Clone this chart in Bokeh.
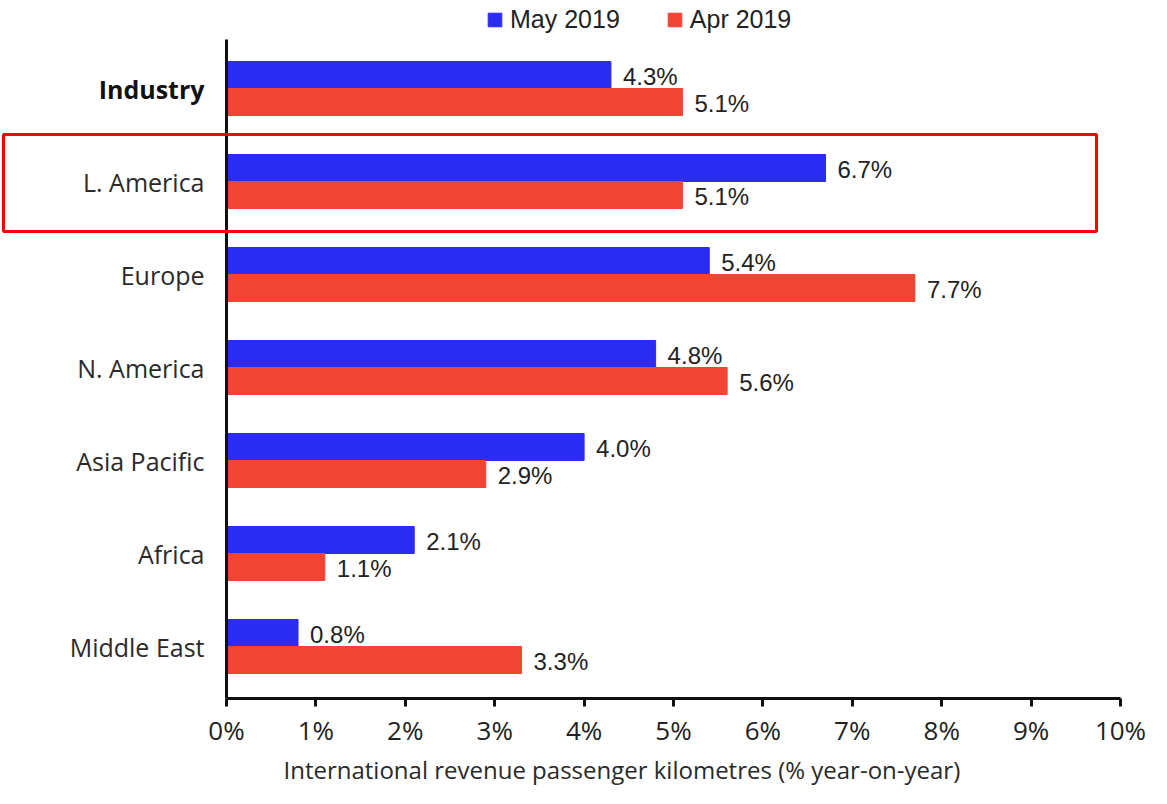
from bokeh.plotting import figure
from bokeh.models import (FixedTicker, PrintfTickFormatter, BoxAnnotation, Title,
                          Legend, LegendItem, ColumnDataSource)
from bokeh.core.properties import value
from bokeh.embed import file_html
from bokeh.resources import INLINE

categories = ["Industry", "L. America", "Europe", "N. America", "Asia Pacific", "Africa", "Middle East"]
may_2019 = [4.3, 6.7, 5.4, 4.8, 4.0, 2.1, 0.8]
apr_2019 = [5.1, 5.1, 7.7, 5.6, 2.9, 1.1, 3.3]
x_ticks = [0, 1, 2, 3, 4, 5, 6, 7, 8, 9, 10]
highlight = "L. America"
bold_category = "Industry"
x_title = "International revenue passenger kilometres (% year-on-year)"

BLUE = "#2b2cf2"
RED = "#f04535"
n = len(categories)
ypos = [n - 1 - i for i in range(n)]

# frame: pixel x 0..1120 (0% at 226), pixel y 0..698 (Industry centre at 88)
W, H = 1151, 788
BORDER_BOTTOM = 90
FRAME_H = H - BORDER_BOTTOM
PX_X = 89.4
PX_Y = 93.0
TOP_C = 88
x_start = -226 / PX_X
y_end = ypos[0] + TOP_C / PX_Y
y_start = ypos[0] - (FRAME_H - TOP_C) / PX_Y
axis_top = ypos[0] + 49 / PX_Y
bh = 27 / PX_Y
off = bh / 2

src = ColumnDataSource(dict(
    y=ypos, cat=categories,
    cat_style=["bold" if c == bold_category else "normal" for c in categories],
    cat_color=["#111111" if c == bold_category else "#2a2a2a" for c in categories],
    zero=[0] * n,
    y_may=[y + off for y in ypos], y_apr=[y - off for y in ypos],
    may=may_2019, apr=apr_2019,
    may_lbl=[f"{v:.1f}%" for v in may_2019], apr_lbl=[f"{v:.1f}%" for v in apr_2019],
))

p = figure(width=W, height=H, output_backend="svg", toolbar_location=None,
           x_range=(x_start, 10), y_range=(y_start, y_end),
           min_border_left=0, min_border_right=31, min_border_top=0,
           min_border_bottom=BORDER_BOTTOM)
p.outline_line_color = None
p.grid.grid_line_color = None
p.yaxis.visible = False

r_may = p.hbar(y="y_may", right="may", left=0, height=bh, color=BLUE, source=src)
r_apr = p.hbar(y="y_apr", right="apr", left=0, height=bh, color=RED, source=src)

# value labels
for col_y, col_x, col_l in (("y_may", "may", "may_lbl"), ("y_apr", "apr", "apr_lbl")):
    p.text(x=col_x, y=col_y, text=col_l, source=src, x_offset=12, y_offset=1,
           text_baseline="middle", text_font=value("Liberation Sans"),
           text_font_size="24px", text_color="#222222")

# category labels (left of the vertical axis line)
p.text(x="zero", y="y", text="cat", source=src, x_offset=-22, text_align="right",
       text_baseline="middle", text_font=value("Open Sans"), text_font_size="25px",
       text_font_style="cat_style", text_color="cat_color")

# vertical axis line
p.segment(x0=[0], y0=[y_start], x1=[0], y1=[axis_top], line_color="#111111", line_width=3)

# x axis
xa = p.xaxis[0]
xa.bounds = (0, 10)
xa.ticker = FixedTicker(ticks=x_ticks)
xa.formatter = PrintfTickFormatter(format="%d%%")
xa.minor_tick_line_color = None
xa.major_tick_in = 0
xa.major_tick_out = 8
xa.major_tick_line_width = 3
xa.axis_line_width = 3
xa.axis_line_color = "#111111"
xa.major_tick_line_color = "#111111"
xa.major_label_text_font = "Open Sans"
xa.major_label_text_font_size = "26px"
xa.major_label_text_color = "#222222"
xa.major_label_standoff = 5

p.add_layout(Title(text=x_title, align="left", offset=283, standoff=0,
                   text_font="Open Sans", text_font_size="24px", text_font_style="normal",
                   text_color="#2a2a2a"), "below")

# highlight box around L. America
hy = ypos[categories.index(highlight)]
p.add_layout(BoxAnnotation(left=(3 - 226) / PX_X, right=(1096 - 226) / PX_X,
                           top=hy + 47 / PX_Y, bottom=hy - 50 / PX_Y,
                           fill_color=None, fill_alpha=0, line_color="#ff0000",
                           line_alpha=1.0, line_width=3))

legend = Legend(items=[LegendItem(label="May 2019", renderers=[r_may]),
                       LegendItem(label="Apr 2019", renderers=[r_apr])],
                orientation="horizontal", location=(486, FRAME_H - 34), border_line_color=None,
                background_fill_alpha=0, glyph_width=17, glyph_height=17,
                label_text_font="Liberation Sans", label_text_font_size="25px",
                label_text_color="#222222", spacing=46, padding=3, margin=0,
                label_standoff=7)
p.add_layout(legend)

open("out.html", "w").write(file_html(p, INLINE))
